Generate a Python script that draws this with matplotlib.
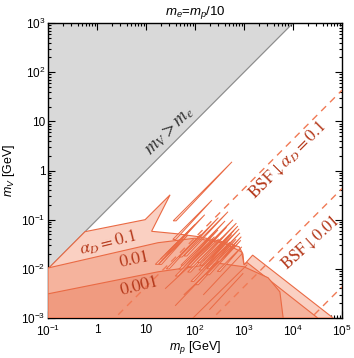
import numpy as np
import matplotlib
matplotlib.use("Agg")
import matplotlib.pyplot as plt
from matplotlib.patches import Polygon
from matplotlib.ticker import FixedLocator, FixedFormatter, LogLocator, NullFormatter

plt.rcParams['font.family'] = ['Liberation Sans', 'DejaVu Sans']
plt.rcParams['mathtext.fontset'] = 'custom'
plt.rcParams['mathtext.rm'] = 'Liberation Sans'
plt.rcParams['mathtext.it'] = 'Liberation Sans:italic'
plt.rcParams['mathtext.bf'] = 'Liberation Sans:bold'

# ---------------- data ----------------
xlim = (1e-1, 1e5)
ylim = (1e-3, 1e3)
x_ticks = [1e-1, 1, 10, 1e2, 1e3, 1e4, 1e5]
x_ticklabels = ['$10^{-1}$', '1', '10', '$10^{2}$', '$10^{3}$', '$10^{4}$', '$10^{5}$']
y_ticks = [1e-3, 1e-2, 1e-1, 1, 10, 1e2, 1e3]
y_ticklabels = ['$10^{-3}$', '$10^{-2}$', '$10^{-1}$', '1', '10', '$10^{2}$', '$10^{3}$']

# kinematic boundary m_V = m_e = m_p/10
me_ratio = 0.1

# alpha_D = 0.1 region (lightest)
light_mp = [0.1, 0.1, 0.57, 9.6, 31, 13, 40, 120, 400, 800, 950, 1000, 1500, 6.6e4]
light_mV = [1e-3, 0.01, 0.057, 0.10, 0.32, 0.058, 0.052, 0.045, 0.035, 0.028, 0.02, 0.012, 0.019, 1e-3]

# alpha_D = 0.01 region (medium)
med_mp = [0.1, 0.1, 17.6, 100, 400, 900, 1000, 1150, 3.2e4]
med_mV = [1e-3, 0.0104, 0.034, 0.042, 0.033, 0.022, 0.012, 0.0135, 1e-3]

# alpha_D = 0.001 region (darkest)
dark_mp = [0.1, 0.1, 17.6, 300, 1000, 3100, 5400, 6300]
dark_mV = [1e-3, 0.0031, 0.0087, 0.013, 0.011, 0.0066, 0.0034, 1e-3]

# numerical spikes: tip position and length (decades, along the diagonal)
spike_tip_mp = [569, 222, 471, 597, 828, 900, 410, 295, 158, 100, 72, 49, 690, 750, 355,
                520, 640, 250, 130, 860, 300, 440, 800, 700, 560, 880, 620, 380]
spike_tip_mV = [1.5, 0.25, 0.145, 0.10, 0.054, 0.028, 0.094, 0.062, 0.126, 0.08, 0.049, 0.039, 0.04, 0.074, 0.043,
                0.035, 0.03, 0.045, 0.05, 0.038, 0.11, 0.07, 0.065, 0.085, 0.05, 0.045, 0.06, 0.03]
spike_len = [1.2, 0.8, 0.9, 0.9, 0.7, 0.5, 0.9, 0.8, 0.8, 0.7, 0.6, 0.5, 0.6, 0.7, 0.7,
             0.8, 0.8, 0.8, 0.7, 0.7, 0.8, 0.8, 0.7, 0.8, 0.6, 0.5, 0.7, 0.5]

# thin contour lines crossing the darkest region
line_start_mp = [91, 40, 60, 150, 25, 200]
line_start_mV = [1e-3, 0.0018, 0.003, 0.003, 0.004, 0.0015]
line_end_mp = [1150, 500, 700, 900, 300, 950]
line_end_mV = [0.012, 0.025, 0.03, 0.02, 0.04, 0.008]

# BSF boundaries m_V = c * m_p
bsf_coef = [4.3e-4, 4.3e-6, 4.3e-8]

# ---------------- style ----------------
c_light = '#FAD0C2'
c_med = '#F5B39D'
c_dark = '#F09B80'
c_edge = '#EA6A44'
c_dash = '#F07A55'
c_text = '#B5391B'

fig = plt.figure(figsize=(3.54, 3.58), dpi=100)
ax = fig.add_axes([48/354, 1-318/358, 294/354, 295/358])
ax.set_xscale('log')
ax.set_yscale('log')
ax.set_xlim(*xlim)
ax.set_ylim(*ylim)

# gray excluded region m_V > m_e
gx = np.array([xlim[0], ylim[1]/me_ratio])
ax.fill_between(gx, gx*me_ratio, ylim[1], color='#D9D9D9', lw=0, zorder=1)
ax.plot(gx, gx*me_ratio, color='#8C8C8C', lw=0.8, zorder=2)

def poly(xs, ys, fc, z):
    p = Polygon(np.column_stack([xs, ys]), closed=True, facecolor=fc,
                edgecolor=c_edge, lw=0.8, zorder=z)
    ax.add_patch(p)

poly(light_mp, light_mV, c_light, 3)
poly(med_mp, med_mV, c_med, 4)
poly(dark_mp, dark_mV, c_dark, 5)

for x0, y0, x1, y1 in zip(line_start_mp, line_start_mV, line_end_mp, line_end_mV):
    ax.plot([x0, x1], [y0, y1], color=c_edge, lw=0.7, zorder=5.5)

for tx, ty, L in zip(spike_tip_mp, spike_tip_mV, spike_len):
    f = 10**L
    bx, by = tx/f, ty/f
    pts = [(tx, ty), (bx, by), (bx*10**0.06, by)]
    ax.add_patch(Polygon(pts, closed=True, facecolor=c_light, alpha=0.55,
                         edgecolor='none', zorder=6))
    ax.add_patch(Polygon(pts, closed=True, facecolor='none',
                         edgecolor=c_edge, lw=0.7, zorder=6))

xx = np.logspace(-1, 5, 50)
for c in bsf_coef:
    ax.plot(xx, c*xx, ls=(0, (5, 4)), color=c_dash, lw=1.0, zorder=7)

# labels
serif = dict(family='STIXGeneral', math_fontfamily='stix')
ax.text(30, 6.5, r'$m_V > m_e$', rotation=45, ha='center', va='center',
        fontsize=13.5, color='#333333', zorder=8, **serif)
ax.text(1.68, 0.034, r'$\alpha_D = 0.1$', rotation=14, ha='center', va='center',
        fontsize=12.5, color=c_text, zorder=8, **serif)
ax.text(6.0, 0.015, '0.01', rotation=12, ha='center', va='center',
        fontsize=12.5, color=c_text, zorder=8, **serif)
ax.text(7.5, 0.0043, '0.001', rotation=14, ha='center', va='center',
        fontsize=12.5, color=c_text, zorder=8, **serif)
ax.text(7.9e3, 1.64, r'BSF$\downarrow\alpha_D = 0.1$', rotation=45, ha='center', va='center',
        fontsize=12.5, color=c_text, zorder=8, **serif)
ax.text(2.24e4, 0.034, r'BSF$\downarrow$0.01', rotation=42, ha='center', va='center',
        fontsize=12, color=c_text, zorder=8, **serif)

ax.set_title(r'$m_e$=$m_p$/10', fontsize=9.5, pad=6)
ax.set_xlabel(r'$m_p$ [GeV]', fontsize=9, labelpad=0)
ax.set_ylabel(r'$m_V$ [GeV]', fontsize=9, labelpad=3)

ax.xaxis.set_major_locator(FixedLocator(x_ticks))
ax.xaxis.set_major_formatter(FixedFormatter(x_ticklabels))
ax.yaxis.set_major_locator(FixedLocator(y_ticks))
ax.yaxis.set_major_formatter(FixedFormatter(y_ticklabels))
for a in (ax.xaxis, ax.yaxis):
    a.set_minor_locator(LogLocator(base=10, subs=np.arange(2, 10), numticks=20))
    a.set_minor_formatter(NullFormatter())
ax.tick_params(which='both', direction='in', top=True, right=True, labelsize=8.5, width=0.8)
ax.tick_params(axis='y', which='major', pad=2)
ax.tick_params(axis='x', which='major', pad=4.2)
ax.tick_params(which='major', length=5)
ax.tick_params(which='minor', length=2.5)
for s in ax.spines.values():
    s.set_linewidth(1.0)

fig.savefig('out.png', dpi=100)
